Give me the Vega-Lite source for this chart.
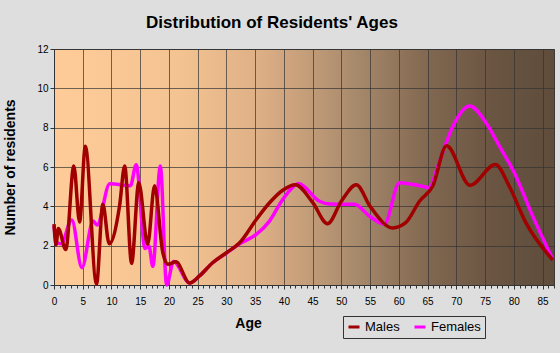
{
  "$schema": "https://vega.github.io/schema/vega-lite/v6.json",
  "width": 500,
  "height": 236,
  "autosize": {"type": "none"},
  "padding": {"left": 54, "top": 49, "right": 6, "bottom": 68},
  "background": "#dedede",
  "title": {
    "text": "Distribution of Residents' Ages",
    "font": "Liberation Sans",
    "fontSize": 17,
    "fontWeight": "bold",
    "color": "#000000",
    "anchor": "middle",
    "frame": "group",
    "baseline": "alphabetic",
    "offset": -1,
    "dx": -32
  },
  "config": {
    "view": {
      "stroke": "#3a3a3a",
      "strokeWidth": 1,
      "fill": {
        "gradient": "linear",
        "x1": 0, "y1": 0, "x2": 1, "y2": 0,
        "stops": [
          {"offset": 0, "color": "#ffcc99"},
          {"offset": 0.25, "color": "#f3c391"},
          {"offset": 0.4, "color": "#e0b187"},
          {"offset": 0.5, "color": "#c59e7a"},
          {"offset": 0.6, "color": "#a88a6c"},
          {"offset": 0.75, "color": "#816750"},
          {"offset": 0.875, "color": "#6a5542"},
          {"offset": 1, "color": "#5f4c3b"}
        ]
      }
    },
    "axis": {
      "labelFont": "Liberation Sans",
      "titleFont": "Liberation Sans",
      "labelColor": "#000000",
      "titleColor": "#000000",
      "domainColor": "#333333",
      "tickColor": "#333333",
      "gridColor": "#333333"
    }
  },
  "data": {
    "values": [
      {"age": 0, "n": 3.0, "sex": "Females"},
      {"age": 0.5, "n": 2.15, "sex": "Females"},
      {"age": 1.2, "n": 2.1, "sex": "Females"},
      {"age": 3.1, "n": 3.3, "sex": "Females"},
      {"age": 4.85, "n": 0.88, "sex": "Females"},
      {"age": 6.8, "n": 3.25, "sex": "Females"},
      {"age": 7.5, "n": 3.05, "sex": "Females"},
      {"age": 9.7, "n": 5.15, "sex": "Females"},
      {"age": 13.3, "n": 5.05, "sex": "Females"},
      {"age": 14.3, "n": 6.12, "sex": "Females"},
      {"age": 15.85, "n": 1.85, "sex": "Females"},
      {"age": 16.5, "n": 2.0, "sex": "Females"},
      {"age": 17.2, "n": 0.95, "sex": "Females"},
      {"age": 18.5, "n": 6.05, "sex": "Females"},
      {"age": 19.6, "n": 0.0, "sex": "Females"},
      {"age": 20.8, "n": 1.2, "sex": "Females"},
      {"age": 23.6, "n": 0.1, "sex": "Females"},
      {"age": 25.3, "n": 0.46, "sex": "Females"},
      {"age": 27.6, "n": 1.13, "sex": "Females"},
      {"age": 30, "n": 1.62, "sex": "Females"},
      {"age": 32.3, "n": 2.1, "sex": "Females"},
      {"age": 35.2, "n": 2.57, "sex": "Females"},
      {"age": 37.5, "n": 3.25, "sex": "Females"},
      {"age": 39.8, "n": 4.35, "sex": "Females"},
      {"age": 42.6, "n": 5.15, "sex": "Females"},
      {"age": 46.2, "n": 4.26, "sex": "Females"},
      {"age": 48, "n": 4.12, "sex": "Females"},
      {"age": 52.3, "n": 4.1, "sex": "Females"},
      {"age": 54.9, "n": 3.5, "sex": "Females"},
      {"age": 57.5, "n": 3.1, "sex": "Females"},
      {"age": 60.1, "n": 5.2, "sex": "Females"},
      {"age": 63.6, "n": 5.05, "sex": "Females"},
      {"age": 65.3, "n": 4.95, "sex": "Females"},
      {"age": 66.8, "n": 6.04, "sex": "Females"},
      {"age": 69.4, "n": 8.07, "sex": "Females"},
      {"age": 72.3, "n": 9.1, "sex": "Females"},
      {"age": 75.2, "n": 8.24, "sex": "Females"},
      {"age": 77.5, "n": 7.06, "sex": "Females"},
      {"age": 80.1, "n": 5.71, "sex": "Females"},
      {"age": 83.3, "n": 3.5, "sex": "Females"},
      {"age": 86.8, "n": 1.3, "sex": "Females"},
      {"age": 0, "n": 3.1, "sex": "Males"},
      {"age": 0.35, "n": 2.05, "sex": "Males"},
      {"age": 0.75, "n": 2.87, "sex": "Males"},
      {"age": 2.05, "n": 1.8, "sex": "Males"},
      {"age": 3.45, "n": 6.05, "sex": "Males"},
      {"age": 4.45, "n": 3.2, "sex": "Males"},
      {"age": 5.45, "n": 7.05, "sex": "Males"},
      {"age": 7.4, "n": 0.05, "sex": "Males"},
      {"age": 8.5, "n": 4.1, "sex": "Males"},
      {"age": 9.6, "n": 2.1, "sex": "Males"},
      {"age": 11.4, "n": 4.0, "sex": "Males"},
      {"age": 12.3, "n": 6.05, "sex": "Males"},
      {"age": 13.5, "n": 1.1, "sex": "Males"},
      {"age": 14.75, "n": 5.2, "sex": "Males"},
      {"age": 16.3, "n": 2.07, "sex": "Males"},
      {"age": 17.5, "n": 5.05, "sex": "Males"},
      {"age": 18.9, "n": 1.7, "sex": "Males"},
      {"age": 19.8, "n": 1.05, "sex": "Males"},
      {"age": 21.2, "n": 1.18, "sex": "Males"},
      {"age": 23.6, "n": 0.1, "sex": "Males"},
      {"age": 25.3, "n": 0.46, "sex": "Males"},
      {"age": 27.6, "n": 1.13, "sex": "Males"},
      {"age": 30, "n": 1.64, "sex": "Males"},
      {"age": 32.3, "n": 2.15, "sex": "Males"},
      {"age": 35.2, "n": 3.33, "sex": "Males"},
      {"age": 37.5, "n": 4.18, "sex": "Males"},
      {"age": 39.8, "n": 4.82, "sex": "Males"},
      {"age": 42, "n": 5.1, "sex": "Males"},
      {"age": 45, "n": 4.2, "sex": "Males"},
      {"age": 47.6, "n": 3.12, "sex": "Males"},
      {"age": 50, "n": 4.26, "sex": "Males"},
      {"age": 52.6, "n": 5.1, "sex": "Males"},
      {"age": 55, "n": 4.0, "sex": "Males"},
      {"age": 58.9, "n": 2.9, "sex": "Males"},
      {"age": 61.2, "n": 3.17, "sex": "Males"},
      {"age": 63.6, "n": 4.26, "sex": "Males"},
      {"age": 65.9, "n": 5.03, "sex": "Males"},
      {"age": 68.3, "n": 7.08, "sex": "Males"},
      {"age": 72.4, "n": 5.07, "sex": "Males"},
      {"age": 76.8, "n": 6.13, "sex": "Males"},
      {"age": 79.2, "n": 5.03, "sex": "Males"},
      {"age": 82.1, "n": 3.17, "sex": "Males"},
      {"age": 86.8, "n": 1.27, "sex": "Males"}
    ]
  },
  "mark": {"type": "line", "interpolate": "monotone", "strokeWidth": 3.5},
  "encoding": {
    "x": {
      "field": "age", "type": "quantitative",
      "scale": {"domain": [0, 87], "nice": false, "zero": false},
      "axis": {
        "values": [0,1,2,3,4,5,6,7,8,9,10,11,12,13,14,15,16,17,18,19,20,21,22,23,24,25,26,27,28,29,30,31,32,33,34,35,36,37,38,39,40,41,42,43,44,45,46,47,48,49,50,51,52,53,54,55,56,57,58,59,60,61,62,63,64,65,66,67,68,69,70,71,72,73,74,75,76,77,78,79,80,81,82,83,84,85,86,87],
        "labelExpr": "datum.value % 5 === 0 ? datum.label : ''",
        "labelOverlap": false,
        "grid": true,
        "gridOpacity": {"condition": {"test": "datum.value % 5 === 0 && datum.value > 0", "value": 0.7}, "value": 0},
        "tickSize": {"condition": {"test": "datum.value % 5 === 0", "value": 4}, "value": 3},
        "labelFontSize": 10,
        "labelPadding": 7,
        "labelFlush": false,
        "title": "Age",
        "titleFontSize": 14,
        "titleFontWeight": "bold",
        "titleX": 194,
        "titleY": 31,
        "titleBaseline": "top"
      }
    },
    "y": {
      "field": "n", "type": "quantitative",
      "scale": {"domain": [0, 12], "nice": false},
      "axis": {
        "values": [0, 2, 4, 6, 8, 10, 12],
        "grid": true,
        "gridOpacity": 0.7,
        "tickSize": 4,
        "labelPadding": 2,
        "labelFontSize": 10,
        "labelOverlap": false,
        "title": "Number of residents",
        "titleFontSize": 14,
        "titleFontWeight": "bold",
        "titlePadding": 19
      }
    },
    "color": {
      "field": "sex", "type": "nominal",
      "scale": {"domain": ["Males", "Females"], "range": ["#a00000", "#ff00ff"]},
      "legend": {
        "orient": "none",
        "legendX": 289,
        "legendY": 267,
        "direction": "horizontal",
        "columns": 2,
        "title": null,
        "padding": 4,
        "strokeColor": "#333333",
        "symbolType": "stroke",
        "symbolSize": 121,
        "symbolStrokeWidth": 3,
        "labelFont": "Liberation Sans",
        "labelFontSize": 13,
        "labelColor": "#000000",
        "labelOffset": 4,
        "columnPadding": 8
      }
    },
    "order": {"field": "age", "type": "quantitative"}
  }
}
